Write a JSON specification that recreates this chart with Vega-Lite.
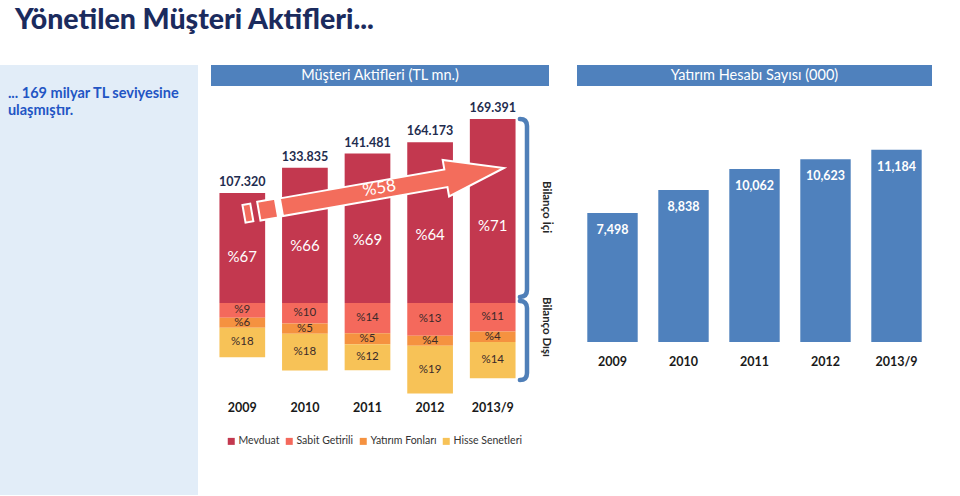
{
  "$schema": "https://vega.github.io/schema/vega-lite/v6.json",
  "background": "white",
  "padding": {"left": 0, "top": 5, "right": 0, "bottom": 0},
  "config": {"font": "Lato", "view": {"stroke": null}},
  "title": {"text": "Yönetilen Müşteri Aktifleri...", "anchor": "start", "dx": 15, "fontSize": 28.5, "font": "Lato", "fontWeight": 900, "color": "#1b2b5e", "offset": 31},
  "spacing": 13,
  "resolve": {"scale": {"color": "independent"}, "legend": {"color": "independent"}},
  "hconcat": [
    {
      "width": 198, "height": 430,
      "view": {"fill": "#e2edf8", "stroke": null},
      "data": {"values": [{"note": "... 169 milyar TL  seviyesine\nulaşmıştır."}]},
      "mark": {"type": "text", "align": "left", "baseline": "top", "lineBreak": "\n", "fontSize": 14.5, "fontWeight": "bold", "color": "#2255c4", "lineHeight": 17},
      "encoding": {
        "x": {"datum": 0.04, "type": "quantitative", "scale": {"domain": [0, 1]}, "axis": null},
        "y": {"datum": 0.95, "type": "quantitative", "scale": {"domain": [0, 1]}, "axis": null},
        "text": {"field": "note"}
      }
    },
    {
      "bounds": "flush",
      "spacing": 13,
      "resolve": {"scale": {"color": "independent"}, "legend": {"color": "independent"}},
      "vconcat": [
        {
          "width": 338, "height": 21,
          "view": {"fill": "#4f81bd", "stroke": null},
          "data": {"values": [{"header": "Müşteri Aktifleri (TL mn.)"}]},
          "mark": {"type": "text", "color": "white", "fontSize": 14.5},
          "encoding": {"text": {"field": "header"}}
        },
        {
          "bounds": "flush",
          "spacing": 0,
          "resolve": {"scale": {"color": "independent"}, "legend": {"color": "independent"}},
          "hconcat": [
            {
              "width": 313, "height": 296,
              "data": {"values": [
                {"year": "2009", "type": "Mevduat", "ord": 1, "value": 71.904, "label": "%67", "total": 107.320},
                {"year": "2009", "type": "Sabit Getirili", "ord": 2, "value": -9.659, "label": "%9", "total": 107.320},
                {"year": "2009", "type": "Yatırım Fonları", "ord": 3, "value": -6.439, "label": "%6", "total": 107.320},
                {"year": "2009", "type": "Hisse Senetleri", "ord": 4, "value": -19.318, "label": "%18", "total": 107.320},
                {"year": "2010", "type": "Mevduat", "ord": 1, "value": 88.331, "label": "%66", "total": 133.835},
                {"year": "2010", "type": "Sabit Getirili", "ord": 2, "value": -13.384, "label": "%10", "total": 133.835},
                {"year": "2010", "type": "Yatırım Fonları", "ord": 3, "value": -6.692, "label": "%5", "total": 133.835},
                {"year": "2010", "type": "Hisse Senetleri", "ord": 4, "value": -24.090, "label": "%18", "total": 133.835},
                {"year": "2011", "type": "Mevduat", "ord": 1, "value": 97.622, "label": "%69", "total": 141.481},
                {"year": "2011", "type": "Sabit Getirili", "ord": 2, "value": -19.807, "label": "%14", "total": 141.481},
                {"year": "2011", "type": "Yatırım Fonları", "ord": 3, "value": -7.074, "label": "%5", "total": 141.481},
                {"year": "2011", "type": "Hisse Senetleri", "ord": 4, "value": -16.978, "label": "%12", "total": 141.481},
                {"year": "2012", "type": "Mevduat", "ord": 1, "value": 105.071, "label": "%64", "total": 164.173},
                {"year": "2012", "type": "Sabit Getirili", "ord": 2, "value": -21.342, "label": "%13", "total": 164.173},
                {"year": "2012", "type": "Yatırım Fonları", "ord": 3, "value": -6.567, "label": "%4", "total": 164.173},
                {"year": "2012", "type": "Hisse Senetleri", "ord": 4, "value": -31.193, "label": "%19", "total": 164.173},
                {"year": "2013/9", "type": "Mevduat", "ord": 1, "value": 120.268, "label": "%71", "total": 169.391},
                {"year": "2013/9", "type": "Sabit Getirili", "ord": 2, "value": -18.633, "label": "%11", "total": 169.391},
                {"year": "2013/9", "type": "Yatırım Fonları", "ord": 3, "value": -6.776, "label": "%4", "total": 169.391},
                {"year": "2013/9", "type": "Hisse Senetleri", "ord": 4, "value": -23.715, "label": "%14", "total": 169.391}
              ]},
              "encoding": {
                "x": {"field": "year", "type": "ordinal", "sort": null, "title": null,
                  "scale": {"paddingInner": 0.27, "paddingOuter": 0.135},
                  "axis": {"orient": "bottom", "domain": false, "ticks": false, "tickSize": 0, "labelPadding": 6, "labelAngle": 0, "labelFontSize": 12.5, "labelFontWeight": "bold", "labelColor": "#1a1a1a", "labelFont": "Lato"}}
              },
              "layer": [
                {
                  "mark": {"type": "bar"},
                  "encoding": {
                    "y": {"field": "value", "type": "quantitative", "stack": "zero", "scale": {"domain": [-60.1, 133.3], "nice": false, "zero": false}, "axis": null},
                    "order": {"field": "ord", "type": "quantitative"},
                    "color": {"field": "type", "type": "nominal",
                      "scale": {"domain": ["Mevduat", "Sabit Getirili", "Yatırım Fonları", "Hisse Senetleri"], "range": ["#c3384f", "#f4695c", "#f59240", "#f7c257"]},
                      "legend": {"orient": "bottom", "direction": "horizontal", "title": null, "symbolType": "square", "symbolSize": 49, "symbolStrokeWidth": 0, "labelFontSize": 10.5, "labelFont": "Lato", "labelColor": "#333333", "columnPadding": 4, "labelOffset": 2, "offset": 7, "padding": 15}}
                  }
                },
                {
                  "transform": [{"filter": "datum.type === 'Mevduat'"}],
                  "mark": {"type": "text", "color": "white", "fontSize": 15},
                  "encoding": {
                    "y": {"field": "value", "type": "quantitative", "stack": "zero", "bandPosition": 0.42},
                    "order": {"field": "ord", "type": "quantitative"},
                    "text": {"field": "label"}
                  }
                },
                {
                  "transform": [{"filter": "datum.type !== 'Mevduat'"}],
                  "mark": {"type": "text", "color": "#3a2a2a", "fontSize": 11.5},
                  "encoding": {
                    "y": {"field": "value", "type": "quantitative", "stack": "zero", "bandPosition": 0.5},
                    "order": {"field": "ord", "type": "quantitative"},
                    "text": {"field": "label"}
                  }
                },
                {
                  "transform": [{"filter": "datum.type === 'Mevduat'"}],
                  "mark": {"type": "text", "color": "#1f2d4f", "fontSize": 12.5, "fontWeight": "bold", "baseline": "bottom", "dy": -4},
                  "encoding": {
                    "y": {"field": "value", "type": "quantitative"},
                    "text": {"field": "total", "type": "quantitative", "format": ".3f"}
                  }
                },
                {
                  "data": {"values": [{"change": "%58"}]},
                  "mark": {"type": "point", "shape": "M-0.95,-0.068L-0.89,-0.068L-0.89,0.068L-0.95,0.068ZM-0.836,-0.072L-0.70,-0.072L-0.70,0.072L-0.836,0.072ZM-0.662,-0.068L0.603,-0.068L0.603,-0.14L1.05,0L0.603,0.14L0.603,0.068L-0.662,0.068Z", "filled": true, "color": "#f36d5c", "stroke": "white", "strokeWidth": 2, "size": 69696, "angle": 350, "opacity": 1},
                  "encoding": {
                    "x": {"datum": "2011", "type": "ordinal"},
                    "y": {"datum": 72.5, "type": "quantitative"}
                  }
                },
                {
                  "data": {"values": [{"change": "%58"}]},
                  "mark": {"type": "text", "color": "white", "fontSize": 17, "angle": 350, "dx": 12, "baseline": "middle"},
                  "encoding": {
                    "x": {"datum": "2011", "type": "ordinal"},
                    "y": {"datum": 73.5, "type": "quantitative"},
                    "text": {"field": "change"}
                  }
                }
              ]
            },
            {
              "width": 40, "height": 296,
              "encoding": {
                "y": {"datum": 0, "type": "quantitative", "scale": {"domain": [-60.1, 133.3], "nice": false, "zero": false}, "axis": null}
              },
              "layer": [
                {
                  "data": {"values": [{"part": "Bilanço İçi"}]},
                  "mark": {"type": "point", "shape": "M-0.08,-1Q0,-1,0,-0.92L0,0.92Q0,1,-0.08,1", "filled": false, "stroke": "#4f7fb8", "strokeWidth": 4.5, "size": 31684, "opacity": 1, "strokeCap": "round"},
                  "encoding": {
                    "x": {"datum": 0.075, "type": "quantitative", "scale": {"domain": [0, 1]}, "axis": null},
                    "y": {"datum": 62.1, "type": "quantitative"}
                  }
                },
                {
                  "data": {"values": [{"part": "Bilanço Dışı"}]},
                  "mark": {"type": "point", "shape": "M-0.18,-1Q0,-1,0,-0.82L0,0.82Q0,1,-0.18,1", "filled": false, "stroke": "#4f7fb8", "strokeWidth": 4.5, "size": 6241, "opacity": 1, "strokeCap": "round"},
                  "encoding": {
                    "x": {"datum": 0.075, "type": "quantitative"},
                    "y": {"datum": -24.5, "type": "quantitative"}
                  }
                },
                {
                  "data": {"values": [{"part": "Bilanço İçi"}]},
                  "mark": {"type": "text", "angle": 90, "fontSize": 11.5, "fontWeight": "bold", "color": "#262626", "baseline": "middle"},
                  "encoding": {
                    "x": {"datum": 0.55, "type": "quantitative"},
                    "y": {"datum": 62.7, "type": "quantitative"},
                    "text": {"field": "part"}
                  }
                },
                {
                  "data": {"values": [{"part": "Bilanço Dışı"}]},
                  "mark": {"type": "text", "angle": 90, "fontSize": 11.5, "fontWeight": "bold", "color": "#262626", "baseline": "middle"},
                  "encoding": {
                    "x": {"datum": 0.55, "type": "quantitative"},
                    "y": {"datum": -15.7, "type": "quantitative"},
                    "text": {"field": "part"}
                  }
                }
              ]
            }
          ]
        }
      ]
    },
    {
      "bounds": "flush",
      "spacing": 13,
      "vconcat": [
        {
          "width": 355, "height": 21,
          "view": {"fill": "#4f81bd", "stroke": null},
          "data": {"values": [{"header": "Yatırım Hesabı Sayısı (000)"}]},
          "mark": {"type": "text", "color": "white", "fontSize": 14.5},
          "encoding": {"text": {"field": "header"}}
        },
        {
          "width": 355, "height": 243,
          "data": {"values": [
            {"year": "2009", "accounts": 7498},
            {"year": "2010", "accounts": 8838},
            {"year": "2011", "accounts": 10062},
            {"year": "2012", "accounts": 10623},
            {"year": "2013/9", "accounts": 11184}
          ]},
          "encoding": {
            "x": {"field": "year", "type": "ordinal", "sort": null, "title": null,
              "scale": {"paddingInner": 0.29, "paddingOuter": 0.145},
              "axis": {"domain": false, "ticks": false, "tickSize": 0, "labelPadding": 13, "labelAngle": 0, "labelFontSize": 12.5, "labelFontWeight": "bold", "labelColor": "#1a1a1a"}},
            "y": {"field": "accounts", "type": "quantitative", "scale": {"domain": [0, 14128], "nice": false}, "axis": null}
          },
          "layer": [
            {"mark": {"type": "bar", "color": "#4f81bd"}},
            {"mark": {"type": "text", "color": "white", "fontWeight": "bold", "fontSize": 12.5, "baseline": "middle", "dy": 17},
             "encoding": {"text": {"field": "accounts", "type": "quantitative", "format": ",d"}}}
          ]
        }
      ]
    }
  ]
}
